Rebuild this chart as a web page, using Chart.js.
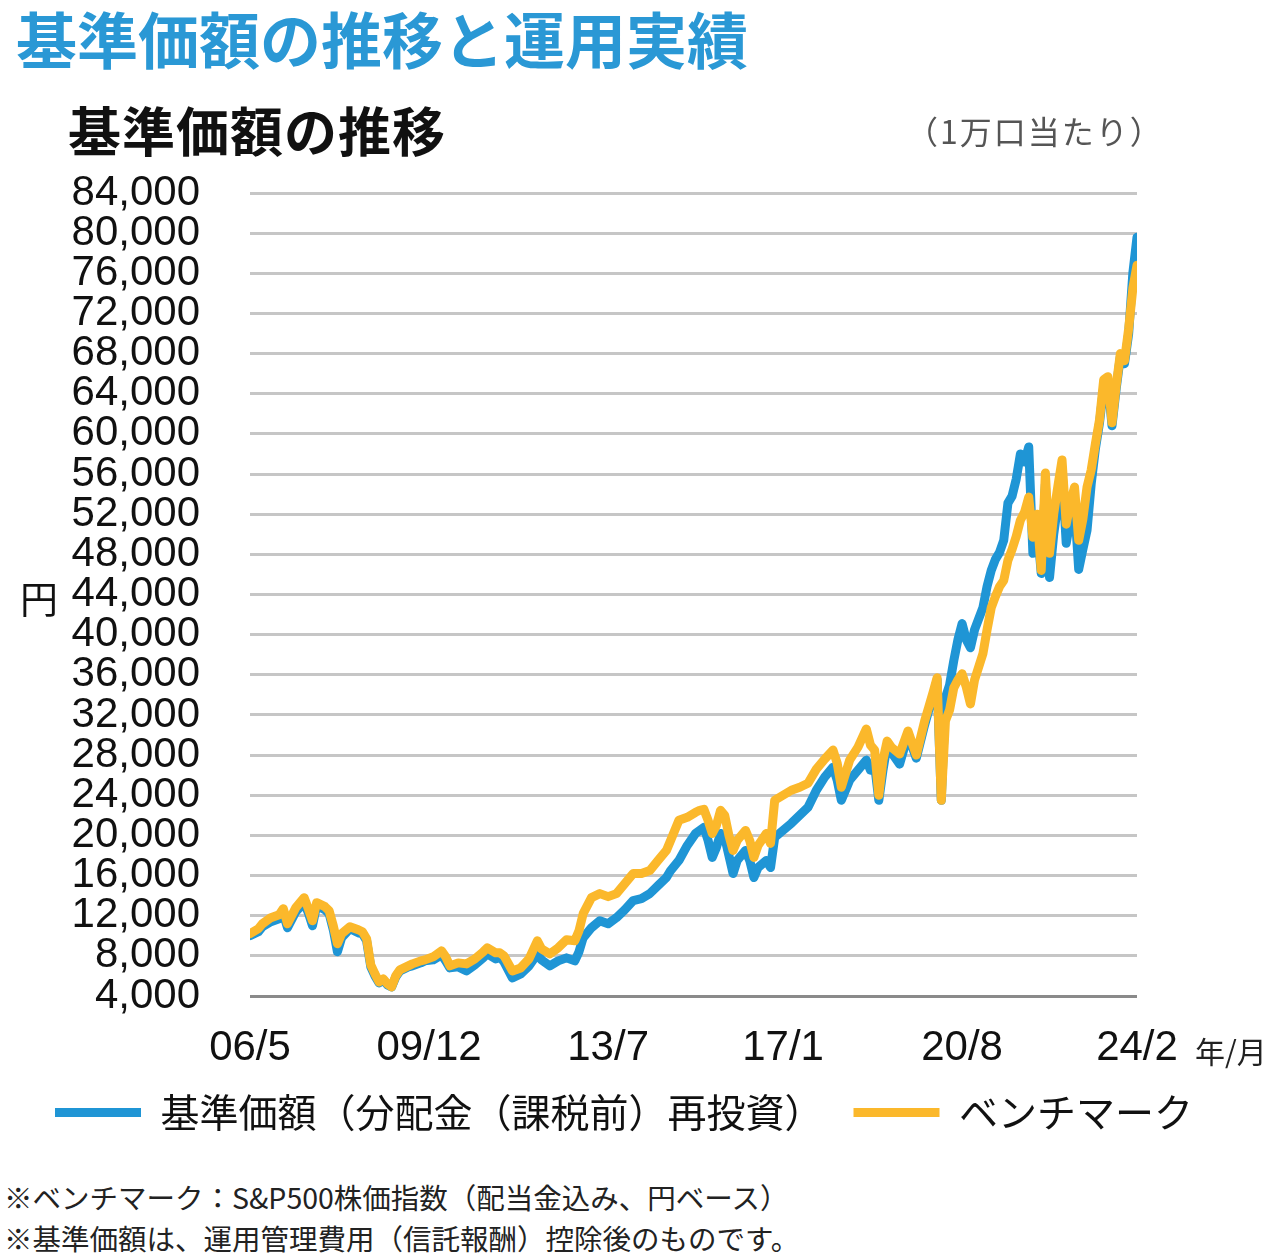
<!DOCTYPE html>
<html lang="ja">
<head>
<meta charset="utf-8">
<script src="https://cdn.jsdelivr.net/npm/chart.js@4.4.1/dist/chart.umd.min.js"></script>
<style>
  html, body { margin: 0; padding: 0; background: #fff; }
  body { width: 1279px; height: 1258px; position: relative; overflow: hidden; font-family: "Noto Sans CJK JP", sans-serif; }
  .txt { position: absolute; white-space: nowrap; line-height: 1; }
  #title { left: 16px; top: 7px; font-size: 61px; font-weight: bold; color: #2a98d5; }
  #subtitle { left: 68px; top: 103px; font-size: 53px; font-weight: bold; color: #111; letter-spacing: 1px; }
  #unit { left: 906px; top: 114px; font-size: 32px; color: #555; letter-spacing: 2px; }
  #yen { left: 20px; top: 578px; font-size: 38px; color: #111; }
  #ym { left: 1195px; top: 1035px; font-size: 30px; color: #222; }
  .note { left: 4px; font-size: 28.5px; color: #222; }
  #chartBox { position: absolute; left: 0; top: 0; width: 1279px; height: 1142px; }
</style>
</head>
<body>
<div id="chartBox"><canvas id="chart" width="1279" height="1142"></canvas></div>
<div class="txt" id="title">基準価額の推移と運用実績</div>
<div class="txt" id="subtitle">基準価額の推移</div>
<div class="txt" id="unit">（1万口当たり）</div>
<div class="txt" id="yen">円</div>
<div class="txt" id="ym">年/月</div>
<div class="txt note" style="top:1183px">※ベンチマーク：S&amp;P500株価指数（配当金込み、円ベース）</div>
<div class="txt note" style="top:1224px">※基準価額は、運用管理費用（信託報酬）控除後のものです。</div>
<script>
// months counted from 2006/5 (= 0)
const monthIndex = [
  0, 2, 3, 5, 7, 8, 9, 11, 13, 14,
  15, 16, 18, 19, 20, 21, 22, 24, 26, 27,
  28, 29, 30, 31, 32, 33, 34, 35, 36, 38,
  39, 41, 42, 44, 46, 47, 48, 50, 52, 54,
  56, 57, 59, 60, 61, 63, 65, 67, 69, 70,
  72, 74, 76, 78, 79, 80, 82, 84, 86, 88,
  90, 92, 94, 96, 98, 100, 101, 103, 105, 107,
  108, 109, 110, 111, 112, 113, 114, 115, 116, 117,
  119, 120, 121, 122, 124, 125, 126, 128, 130, 132,
  134, 136, 138, 140, 141, 142, 144, 146, 148, 149,
  150, 151, 152, 153, 154, 156, 158, 160, 162, 163,
  164, 165, 166, 167, 168, 169, 170, 171, 172, 173,
  174, 176, 177, 178, 179, 180, 181, 182, 183, 184,
  185, 186, 187, 188, 189, 190, 191, 192, 193, 194,
  195, 196, 197, 198, 199, 200, 201, 202, 203, 204,
  205, 206, 207, 208, 209, 210, 211, 212, 213
];

const fundValues = [
  10000, 10400, 10900, 11400, 11700, 12200, 10800, 12400, 13300, 12300,
  11000, 13000, 12600, 12200, 10600, 8400, 9800, 10700, 10300, 10200,
  9500, 6900, 6000, 5300, 5600, 5100, 4900, 5900, 6500, 6900,
  7000, 7300, 7500, 7600, 8100, 7500, 6800, 6900, 6500, 7100,
  7800, 8200, 7700, 7900, 7400, 5800, 6200, 7000, 8200, 7600,
  7000, 7500, 7800, 7500, 8400, 9800, 10800, 11500, 11200, 11800,
  12600, 13500, 13700, 14200, 15000, 15800, 16500, 17500, 19000, 20200,
  20500, 20800, 19500, 17800, 18800, 20200, 19800, 18000, 16200, 17500,
  18500, 17500, 15800, 16800, 17500, 16800, 19800, 20500, 21200, 22000,
  22800, 24500, 25800, 26800, 25500, 23500, 25500, 26500, 27500, 26500,
  27000, 23500, 26500, 29000, 28300, 27100, 30000, 27700, 31000, 32500,
  33800, 35500, 23500, 33700, 35000, 37400, 39500, 41100, 39500, 38700,
  40500, 42700, 44800, 46400, 47500, 48200, 49400, 53100, 53800, 55500,
  58000, 57200, 58700, 48100, 51000, 46100, 55000, 45700, 50000, 53000,
  56400, 49100, 51500, 53000, 46500, 48500, 50400, 55000, 58500, 61100,
  64700, 65300, 60800, 64500, 67700, 67000, 70000, 76000, 79600
];

const benchValues = [
  10200, 10700, 11200, 11800, 12100, 12700, 11200, 12800, 13800, 12700,
  11500, 13300, 12900, 12500, 11000, 9200, 10200, 10900, 10600, 10400,
  9700, 7100, 6200, 5400, 5700, 5200, 4900, 6000, 6600, 7000,
  7200, 7500, 7600, 7900, 8500, 7900, 7000, 7300, 7200, 7700,
  8400, 8800, 8300, 8300, 8000, 6500, 6800, 7700, 9500, 8700,
  8200, 8800, 9600, 9500, 10500, 12200, 13800, 14200, 13900, 14200,
  15200, 16200, 16200, 16500, 17500, 18500, 19500, 21500, 21800, 22300,
  22500, 22600, 21500, 20200, 21000, 22500, 22000, 20000, 18500, 19500,
  20500, 19500, 17800, 19000, 20200, 19200, 23500, 24000, 24500, 24800,
  25200, 26600, 27600, 28500, 27200, 24800, 27500, 28800, 30600, 29000,
  28500, 24000, 27500, 29400, 28800, 28100, 30400, 28000, 31400, 32800,
  34200, 35700, 23500, 31400, 32500, 34700, 35500, 36100, 34800, 33100,
  35500, 38100, 40500, 42700, 43800, 44800, 45400, 47400, 48500, 49800,
  51400, 52200, 53700, 49700, 52000, 46400, 56100, 48100, 52000, 54800,
  57400, 51000, 53100, 54700, 49400, 51500, 54700, 56400, 59000, 61400,
  65400, 65700, 61100, 64800, 68000, 67300, 70500, 74500, 76800
];

const tickLabels = ['06/5', '09/12', '13/7', '17/1', '20/8', '24/2'];
const yTicks = { min: 4000, max: 84000, step: 4000 };

const seriesNames = ['基準価額（分配金（課税前）再投資）', 'ベンチマーク'];
const blue = '#1f95d5';
const yellow = '#fbb82b';

// tick positions in months from 2006/5
const tickPos = tickLabels.map(t => {
    const [yy, mm] = t.split('/').map(Number);
    return (2000 + yy - 2006) * 12 + (mm - 5);
});

const numFont = { family: '"Liberation Sans", Arial, sans-serif', size: 42, lineHeight: 1 };

const ctx = document.getElementById('chart').getContext('2d');
new Chart(ctx, {
    type: 'line',
    data: {
        datasets: [
            {
                label: seriesNames[0],
                data: monthIndex.map((m, i) => ({ x: m, y: fundValues[i] })),
                borderColor: blue,
                backgroundColor: blue,
                borderWidth: 9,
                borderJoinStyle: 'round',
                borderCapStyle: 'round',
                pointRadius: 0,
                tension: 0,
                order: 1
            },
            {
                label: seriesNames[1],
                data: monthIndex.map((m, i) => ({ x: m, y: benchValues[i] })),
                borderColor: yellow,
                backgroundColor: yellow,
                borderWidth: 9,
                borderJoinStyle: 'round',
                borderCapStyle: 'round',
                pointRadius: 0,
                tension: 0,
                order: 0 // benchmark drawn on top
            }
        ]
    },
    options: {
        responsive: false,
        animation: false,
        layout: { padding: { left: 25, right: 0, top: 193, bottom: 0 } },
        scales: {
            x: {
                type: 'linear',
                min: 0,
                max: 213,
                grid: { display: false, drawTicks: false },
                border: { display: false },
                afterBuildTicks: s => { s.ticks = tickPos.map(v => ({ value: v })); },
                afterFit: s => { s.height = 67; },
                ticks: {
                    autoSkip: false,
                    maxRotation: 0,
                    padding: 31,
                    color: '#111',
                    font: numFont,
                    callback: v => {
                        const i = tickPos.indexOf(v);
                        return i >= 0 ? tickLabels[i] : '';
                    }
                }
            },
            y: {
                min: yTicks.min,
                max: yTicks.max,
                afterFit: s => { s.width = 225; },
                grid: {
                    drawTicks: false,
                    lineWidth: 3,
                    color: c => (c.tick && c.tick.value === yTicks.min) ? '#8a8a8a' : '#c6c6c6'
                },
                border: { display: false },
                ticks: {
                    stepSize: yTicks.step,
                    autoSkip: false,
                    padding: 50,
                    color: '#111',
                    font: numFont
                }
            },
            // empty right axis, only keeps the right margin
            yRight: {
                position: 'right',
                grid: { display: false, drawTicks: false },
                border: { display: false },
                ticks: { display: false },
                afterFit: s => { s.width = 142; }
            }
        },
        plugins: {
            legend: {
                position: 'bottom',
                align: 'start',
                labels: {
                    usePointStyle: true,
                    pointStyle: 'line',
                    pointStyleWidth: 86,
                    padding: 30,
                    color: '#111',
                    font: { family: '"Noto Sans CJK JP", sans-serif', size: 39 },
                    sort: (a, b) => a.datasetIndex - b.datasetIndex
                }
            },
            tooltip: { enabled: false }
        }
    }
});
</script>
</body>
</html>
